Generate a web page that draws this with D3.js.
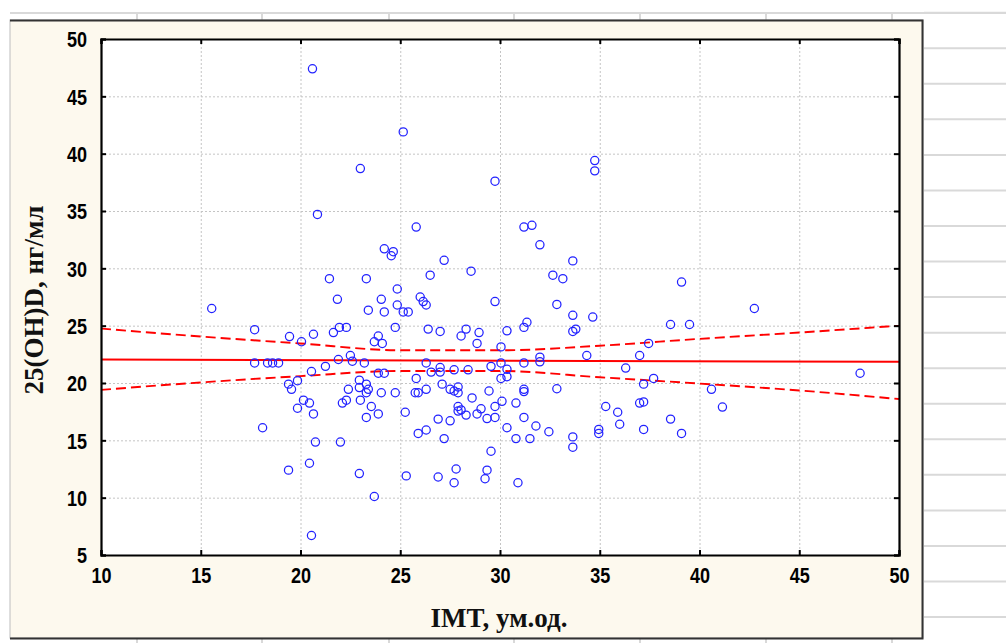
<!DOCTYPE html>
<html lang="uk">
<head>
    <meta charset="UTF-8">
    <title>25(OH)D vs IMT</title>
    <script src="https://d3js.org/d3.v7.min.js"></script>
    <style>
        body { margin: 0; background: #fff; }
        .tick-label { font-family: "Liberation Sans Narrow", "Liberation Sans", Arial, sans-serif; font-weight: bold; font-size: 22px; fill: #000; }
        .axis-title { font-family: "Liberation Serif", "Times New Roman", serif; font-weight: bold; font-size: 27px; fill: #111; }
    </style>
</head>
<body>
    <svg id="chart" width="1006" height="643"></svg>

    <script>
        // scatter points: IMT (x) and 25(OH)D (y)
        const imtValues = [
            20.6, 25.15, 23.0, 29.75, 20.85, 25.8, 24.2, 24.65, 24.55, 27.2,
            28.55, 21.45, 23.3, 26.5, 24.85, 21.85, 24.05, 26.0, 26.15, 26.3,
            29.75, 34.75, 34.75, 31.2, 31.6, 32.0, 33.65, 32.65, 33.15, 39.1,
            15.55, 17.7, 19.45, 20.05, 17.7, 18.35, 18.6, 18.9, 19.4, 19.55,
            19.85, 20.15, 20.45, 19.85, 20.65, 18.1, 19.4, 20.45, 20.55,
            23.4, 24.2, 24.85, 25.15, 25.4, 24.75, 21.95, 22.3, 21.65, 20.65,
            23.9, 23.7, 24.1, 26.4, 27.0, 28.3, 28.05, 28.95, 28.85, 30.35,
            30.05, 21.9, 22.5, 22.6, 23.2, 21.25, 20.55, 23.9, 24.2, 26.3,
            26.55, 27.0, 27.0, 27.7, 28.4, 29.55, 30.05, 30.35, 30.05, 30.35,
            22.95, 23.3, 22.95, 23.4, 23.3, 22.4, 24.05, 24.75, 25.8, 25.75,
            25.9, 26.3, 27.1, 27.5, 27.9, 27.9, 27.7, 29.45, 22.3, 22.1,
            23.0, 23.55, 23.3, 23.9, 25.25, 26.9, 27.5, 27.9, 28.05, 27.9,
            28.3, 28.6, 29.05, 28.85, 29.35, 29.75, 29.75, 30.1, 30.35, 25.9,
            26.3, 27.2, 20.75, 22.0, 29.55, 22.95, 25.3, 26.9, 27.8, 27.7,
            29.35, 29.25, 23.7,
            32.85, 33.65, 34.65, 31.2, 31.35, 33.65, 33.8, 38.55, 39.5, 37.45,
            34.35, 37.0, 32.0, 32.0, 31.2, 36.3, 37.7, 37.2, 31.2, 31.2,
            32.85, 40.6, 30.8, 37.0, 37.2, 35.3, 35.9, 31.2, 31.8, 32.45,
            34.95, 34.95, 36.0, 37.2, 38.55, 39.1, 41.15, 30.8, 31.5, 33.65,
            33.65, 30.9, 42.75, 48.05
        ];
        const ohdValues = [
            47.4, 41.9, 38.7, 37.6, 34.7, 33.6, 31.7, 31.45, 31.1, 30.7,
            29.75, 29.1, 29.1, 29.4, 28.2, 27.3, 27.3, 27.5, 27.1, 26.8,
            27.1, 39.4, 38.5, 33.6, 33.75, 32.05, 30.65, 29.4, 29.1, 28.8,
            26.5, 24.65, 24.05, 23.6, 21.75, 21.75, 21.75, 21.75, 19.9, 19.45,
            20.2, 18.5, 18.25, 17.8, 17.3, 16.1, 12.4, 13.0, 6.7,
            26.35, 26.2, 26.8, 26.2, 26.2, 24.85, 24.85, 24.85, 24.4, 24.25,
            24.1, 23.6, 23.45, 24.7, 24.5, 24.7, 24.1, 24.4, 23.45, 24.55,
            23.15, 22.05, 22.4, 21.9, 21.75, 21.45, 21.0, 20.85, 20.85, 21.75,
            20.95, 21.35, 20.95, 21.15, 21.15, 21.45, 21.75, 21.2, 20.4, 20.55,
            20.25, 19.9, 19.6, 19.45, 19.15, 19.45, 19.15, 19.15, 20.4, 19.15,
            19.15, 19.45, 19.9, 19.45, 19.65, 19.15, 19.3, 19.3, 18.5, 18.25,
            18.5, 17.95, 17.0, 17.3, 17.45, 16.85, 16.7, 17.95, 17.65, 17.55,
            17.2, 18.7, 17.75, 17.3, 16.9, 17.95, 17.0, 18.4, 16.1, 15.6,
            15.9, 15.15, 14.85, 14.85, 14.05, 12.1, 11.9, 11.8, 12.5, 11.3,
            12.4, 11.65, 10.1,
            26.85, 25.9, 25.75, 24.85, 25.3, 24.5, 24.7, 25.1, 25.1, 23.45,
            22.4, 22.4, 22.25, 21.85, 21.75, 21.3, 20.4, 19.9, 19.45, 19.25,
            19.5, 19.45, 18.25, 18.25, 18.35, 17.95, 17.45, 17.0, 16.25, 15.75,
            15.95, 15.6, 16.4, 15.95, 16.85, 15.6, 17.9, 15.15, 15.15, 15.3,
            14.4, 11.3, 26.5, 20.85
        ];

        // fitted line and 95% band, read at every 5 units of IMT
        const fitX = [10, 50];
        const fitY = [22.05, 21.85];
        const bandX = [10, 15, 20, 25, 30, 35, 40, 45, 50];
        const bandUpper = [24.75, 24.05, 23.45, 22.85, 22.85, 23.25, 23.85, 24.4, 25.0];
        const bandLower = [19.4, 20.05, 20.6, 21.05, 21.05, 20.5, 19.95, 19.35, 18.6];

        const xTicks = [10, 15, 20, 25, 30, 35, 40, 45, 50];
        const yTicks = [5, 10, 15, 20, 25, 30, 35, 40, 45, 50];

        const svg = d3.select("#chart");

        // spreadsheet cells behind the graph
        const cellCols = [137, 262, 389, 514, 640, 766, 892];
        const sheet = svg.append("g").attr("stroke", "#d9d9d9").attr("stroke-width", 2);
        sheet.append("line").attr("x1", 10).attr("x2", 1006).attr("y1", 13).attr("y2", 13);
        sheet.selectAll(".col").data(cellCols).enter().append("line")
            .attr("x1", d => d).attr("x2", d => d).attr("y1", 13).attr("y2", 643);
        sheet.selectAll(".row").data(d3.range(0, 18)).enter().append("line")
            .attr("x1", 924).attr("x2", 1006)
            .attr("y1", d => 12.7 + d * 35.55).attr("y2", d => 12.7 + d * 35.55);

        // cream graph window
        svg.append("rect").attr("x", 10).attr("y", 20).attr("width", 913).attr("height", 618)
            .attr("fill", "#fdf9ee").attr("stroke", "#bdbdbd").attr("stroke-width", 1);
        svg.append("path").attr("d", "M10,20.5H922.5V638.5H10")
            .attr("fill", "none").attr("stroke", "#333").attr("stroke-width", 2);

        const plotLeft = 101, plotRight = 899, plotTop = 39, plotBottom = 555;
        const x = d3.scaleLinear().domain([10, 50]).range([plotLeft, plotRight]);
        const y = d3.scaleLinear().domain([5, 50]).range([plotBottom, plotTop]);

        svg.append("rect").attr("x", plotLeft).attr("y", plotTop)
            .attr("width", plotRight - plotLeft).attr("height", plotBottom - plotTop).attr("fill", "#fff");

        // dotted grid
        const grid = svg.append("g").attr("stroke", "#c4c4c4").attr("stroke-width", 1)
            .attr("stroke-dasharray", "2,2");
        grid.selectAll(".gx").data(xTicks.slice(1, -1)).enter().append("line")
            .attr("x1", d => x(d) + 0.5).attr("x2", d => x(d) + 0.5).attr("y1", plotTop).attr("y2", plotBottom);
        grid.selectAll(".gy").data(yTicks.slice(1, -1)).enter().append("line")
            .attr("y1", d => y(d) + 0.5).attr("y2", d => y(d) + 0.5).attr("x1", plotLeft).attr("x2", plotRight);

        // confidence band and regression line
        const band = d3.line().x((d, i) => x(bandX[i])).y(d => y(d)).curve(d3.curveMonotoneX);
        [bandUpper, bandLower].forEach(vals => {
            svg.append("path").attr("d", band(vals))
                .attr("fill", "none").attr("stroke", "#ff0000").attr("stroke-width", 1.9)
                .attr("stroke-dasharray", "10,5");
        });
        svg.append("path")
            .attr("d", d3.line().x((d, i) => x(fitX[i])).y(d => y(d))(fitY))
            .attr("fill", "none").attr("stroke", "#ff0000").attr("stroke-width", 2);

        // points
        svg.append("g").selectAll("circle")
            .data(imtValues)
            .enter()
            .append("circle")
            .attr("cx", d => x(d))
            .attr("cy", (d, i) => y(ohdValues[i]))
            .attr("r", 4.1)
            .attr("fill", "none")
            .attr("stroke", "#2222ff")
            .attr("stroke-width", 1.25);

        // axes, ticks pointing inwards on every side
        const gx = svg.append("g").attr("transform", `translate(0,${plotBottom})`)
            .call(d3.axisBottom(x).tickValues(xTicks).tickSize(-5).tickPadding(12));
        const gy = svg.append("g").attr("transform", `translate(${plotLeft},0)`)
            .call(d3.axisLeft(y).tickValues(yTicks).tickSize(-5).tickPadding(14));
        svg.append("g").attr("transform", `translate(0,${plotTop})`)
            .call(d3.axisTop(x).tickValues(xTicks).tickSize(-5).tickFormat(""));
        svg.append("g").attr("transform", `translate(${plotRight},0)`)
            .call(d3.axisRight(y).tickValues(yTicks).tickSize(-5).tickFormat(""));

        svg.selectAll(".domain").attr("stroke", "#000").attr("stroke-width", 2.2);
        svg.selectAll(".tick line").attr("stroke", "#000").attr("stroke-width", 2);
        svg.selectAll("g[font-family]").attr("font-family", null).attr("font-size", null);
        // narrow bold digits, like the Statistica labels
        const squeeze = 0.82;
        gx.selectAll("text").attr("class", "tick-label").attr("transform", `scale(${squeeze},1)`);
        gy.selectAll("text").attr("class", "tick-label").attr("dy", "0.36em")
            .attr("x", -14 / squeeze).attr("transform", `scale(${squeeze},1)`);

        // axis titles
        svg.append("text").attr("class", "axis-title")
            .attr("x", 499).attr("y", 627).attr("text-anchor", "middle")
            .text("IMT, ум.од.");
        svg.append("text").attr("class", "axis-title")
            .attr("transform", "translate(43,300) rotate(-90)").attr("text-anchor", "middle")
            .text("25(OH)D, нг/мл");
    </script>
</body>
</html>
